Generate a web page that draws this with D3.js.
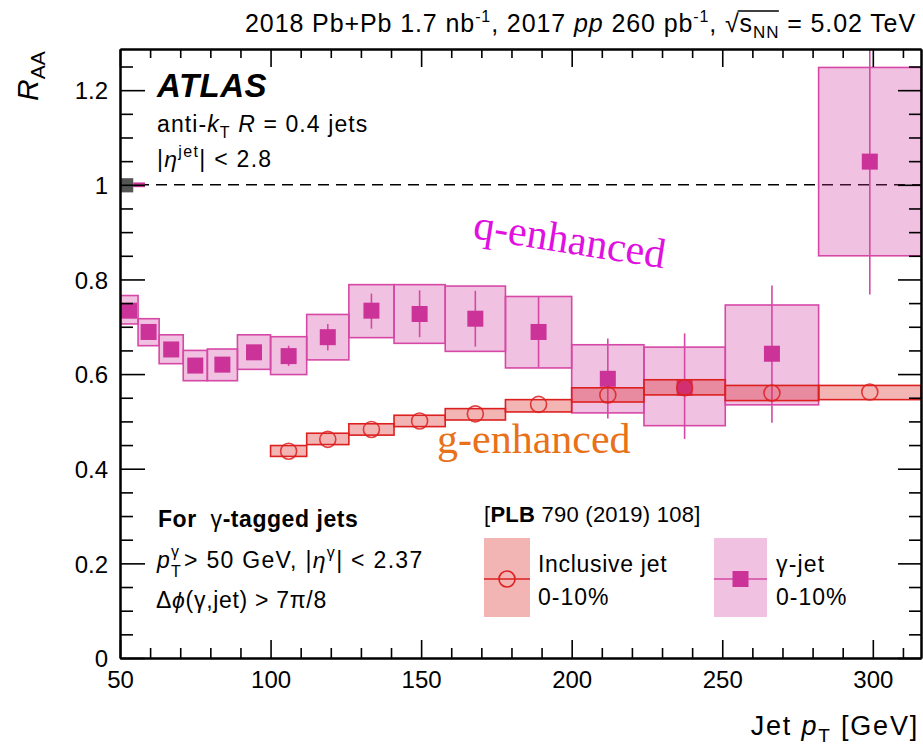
<!DOCTYPE html>
<html>
<head>
<meta charset="utf-8">
<script src="https://cdn.jsdelivr.net/npm/d3@7"></script>
<style>
  body { margin: 0; background: #fff; }
  text { font-family: "Liberation Sans", Arial, Helvetica, sans-serif; fill: #000; }
</style>
</head>
<body>
<svg id="chart" width="923" height="750"></svg>
<script>
// Jet pT bin edges [GeV]
const binEdges = [50, 56, 63, 71, 79, 89, 100, 112, 126, 141, 158, 178, 200, 224, 251, 282, 316];

// gamma-tagged jets, 0-10% (one entry per bin, from 50 GeV)
const gammaJetRaa   = [0.734, 0.689, 0.652, 0.618, 0.620, 0.646, 0.638, 0.678, 0.734, 0.727, 0.717, 0.689, 0.590, 0.571, 0.643, 1.049];
const gammaJetSysLo = [0.706, 0.660, 0.622, 0.586, 0.586, 0.610, 0.599, 0.630, 0.677, 0.665, 0.648, 0.613, 0.518, 0.491, 0.535, 0.850];
const gammaJetSysHi = [0.766, 0.717, 0.683, 0.650, 0.653, 0.683, 0.679, 0.726, 0.789, 0.789, 0.786, 0.764, 0.662, 0.657, 0.746, 1.248];
const gammaJetStatLo = [0.725, 0.680, 0.642, 0.607, 0.608, 0.632, 0.617, 0.650, 0.696, 0.678, 0.658, 0.615, 0.506, 0.463, 0.497, 0.768];
const gammaJetStatHi = [0.743, 0.698, 0.662, 0.629, 0.632, 0.660, 0.660, 0.706, 0.770, 0.777, 0.776, 0.763, 0.675, 0.686, 0.787, 1.330];

// inclusive jets, 0-10% [PLB 790 (2019) 108] (bins from 100 GeV)
const inclusiveFirstBin = 6;
const inclusiveRaa   = [0.437, 0.462, 0.483, 0.501, 0.516, 0.536, 0.556, 0.571, 0.560, 0.562];
const inclusiveSysLo = [0.426, 0.451, 0.471, 0.489, 0.503, 0.520, 0.541, 0.556, 0.544, 0.546];
const inclusiveSysHi = [0.449, 0.475, 0.495, 0.513, 0.527, 0.546, 0.571, 0.588, 0.576, 0.576];

// global normalisation uncertainties drawn at unity
const normTaa   = { x0: 50,   x1: 54.4, lo: 0.984, hi: 1.014 };
const normLumi  = { x0: 54.4, x1: 58.3, lo: 0.995, hi: 1.005 };

// axis ticks
const xMajorTicks = [50, 100, 150, 200, 250, 300];
const xMinorTicks = d3.range(60, 316, 10).filter(v => v % 50 !== 0);
const yMajorTicks = [0, 0.2, 0.4, 0.6, 0.8, 1.0, 1.2];
const yMinorTicks = d3.range(0.05, 1.28, 0.05).filter(v => Math.abs(v * 5 - Math.round(v * 5)) > 1e-6);
const yTickLabels = ["0", "0.2", "0.4", "0.6", "0.8", "1", "1.2"];

const pink = "#cc3399", pinkStroke = "#d648a6", pinkFill = "rgba(204,51,153,0.30)";
const red = "#dc2020", redFill = "rgba(222,40,40,0.35)";

const svg = d3.select("#chart");
const L = 120, R = 921, T = 49, B = 658;
const x = d3.scaleLinear().domain([50, 316]).range([L, R]);
const y = d3.scaleLinear().domain([0, 1.287]).range([B, T]);

const plot = svg.append("g");
svg.append("defs").append("clipPath").attr("id", "clip")
  .append("rect").attr("x", L).attr("y", T).attr("width", R - L).attr("height", B - T);

// reference line at unity
plot.append("line")
  .attr("x1", L).attr("x2", R).attr("y1", y(1)).attr("y2", y(1))
  .attr("stroke", "#000").attr("stroke-width", 1.6).attr("stroke-dasharray", "11,7");

const data = gammaJetRaa.map((v, i) => ({
  x0: binEdges[i], x1: binEdges[i + 1], v,
  sLo: gammaJetSysLo[i], sHi: gammaJetSysHi[i], eLo: gammaJetStatLo[i], eHi: gammaJetStatHi[i]
}));
const inc = inclusiveRaa.map((v, i) => ({
  x0: binEdges[i + inclusiveFirstBin], x1: binEdges[i + inclusiveFirstBin + 1], v,
  sLo: inclusiveSysLo[i], sHi: inclusiveSysHi[i]
}));

const gj = plot.append("g").attr("clip-path", "url(#clip)");
gj.selectAll("rect.sys").data(data).join("rect").attr("class", "sys")
  .attr("x", d => x(d.x0)).attr("width", d => x(d.x1) - x(d.x0))
  .attr("y", d => y(d.sHi)).attr("height", d => y(d.sLo) - y(d.sHi))
  .attr("fill", pinkFill).attr("stroke", pinkStroke).attr("stroke-width", 1.6);
gj.selectAll("line.stat").data(data).join("line").attr("class", "stat")
  .attr("x1", d => x((d.x0 + d.x1) / 2)).attr("x2", d => x((d.x0 + d.x1) / 2))
  .attr("y1", d => y(d.eHi)).attr("y2", d => y(d.eLo))
  .attr("stroke", pinkStroke).attr("stroke-width", 1.6);
gj.selectAll("rect.mk").data(data).join("rect").attr("class", "mk")
  .attr("x", d => x((d.x0 + d.x1) / 2) - 8).attr("y", d => y(d.v) - 8)
  .attr("width", 16).attr("height", 16).attr("fill", pink);

const ij = plot.append("g").attr("clip-path", "url(#clip)");
ij.selectAll("rect.sys").data(inc).join("rect").attr("class", "sys")
  .attr("x", d => x(d.x0)).attr("width", d => x(d.x1) - x(d.x0))
  .attr("y", d => y(d.sHi)).attr("height", d => y(d.sLo) - y(d.sHi))
  .attr("fill", redFill).attr("stroke", red).attr("stroke-width", 1.6);
ij.selectAll("circle").data(inc).join("circle")
  .attr("cx", d => x((d.x0 + d.x1) / 2)).attr("cy", d => y(d.v)).attr("r", 8)
  .attr("fill", "none").attr("stroke", red).attr("stroke-opacity", 0.85).attr("stroke-width", 1.6);

// normalisation boxes
plot.append("rect").attr("x", x(normTaa.x0)).attr("width", x(normTaa.x1) - x(normTaa.x0))
  .attr("y", y(normTaa.hi)).attr("height", y(normTaa.lo) - y(normTaa.hi)).attr("fill", "#555");
plot.append("rect").attr("x", x(normLumi.x0)).attr("width", x(normLumi.x1) - x(normLumi.x0))
  .attr("y", y(normLumi.hi)).attr("height", y(normLumi.lo) - y(normLumi.hi)).attr("fill", pink);

// axes
function styleAxis(g) {
  g.selectAll("path.domain").attr("stroke", "#000").attr("stroke-width", 2);
  g.selectAll(".tick line").attr("stroke", "#000").attr("stroke-width", 1.6);
  g.selectAll("text").style("font-family", '"Liberation Sans", Arial, sans-serif').style("font-size", "24px").attr("fill", "#000");
}
const axes = svg.append("g");
const xb = axes.append("g").attr("transform", `translate(0,${B})`)
  .call(d3.axisBottom(x).tickValues(xMajorTicks).tickSize(-18).tickSizeOuter(0).tickFormat(d3.format("d")));
xb.selectAll("text").attr("y", 30).attr("dy", 0);
styleAxis(xb);
const xbm = axes.append("g").attr("transform", `translate(0,${B})`)
  .call(d3.axisBottom(x).tickValues(xMinorTicks).tickSize(-10).tickSizeOuter(0).tickFormat(""));
styleAxis(xbm);
const xt = axes.append("g").attr("transform", `translate(0,${T})`)
  .call(d3.axisTop(x).tickValues(xMajorTicks).tickSize(-18).tickSizeOuter(0).tickFormat(""));
styleAxis(xt);
const xtm = axes.append("g").attr("transform", `translate(0,${T})`)
  .call(d3.axisTop(x).tickValues(xMinorTicks).tickSize(-9).tickSizeOuter(0).tickFormat(""));
styleAxis(xtm);

const yl = axes.append("g").attr("transform", `translate(${L},0)`)
  .call(d3.axisLeft(y).tickValues(yMajorTicks).tickSize(-25).tickSizeOuter(0)
    .tickFormat((d, i) => yTickLabels[i]));
yl.selectAll("text").attr("x", -12).attr("dy", "0.36em");
styleAxis(yl);
const ylm = axes.append("g").attr("transform", `translate(${L},0)`)
  .call(d3.axisLeft(y).tickValues(yMinorTicks).tickSize(-13).tickSizeOuter(0).tickFormat(""));
styleAxis(ylm);
const yr = axes.append("g").attr("transform", `translate(${R},0)`)
  .call(d3.axisRight(y).tickValues(yMajorTicks).tickSize(-23).tickSizeOuter(0).tickFormat(""));
styleAxis(yr);
const yrm = axes.append("g").attr("transform", `translate(${R},0)`)
  .call(d3.axisRight(y).tickValues(yMinorTicks).tickSize(-12).tickSizeOuter(0).tickFormat(""));
styleAxis(yrm);

// text helpers
function spans(sel, parts) {
  parts.forEach(p => {
    const t = sel.append("tspan").text(p.t);
    if (p.dy != null) t.attr("dy", p.dy);
    if (p.dx != null) t.attr("dx", p.dx);
    if (p.fs) t.style("font-size", p.fs + "px");
    if (p.it) t.style("font-style", "italic");
    if (p.b) t.style("font-weight", "bold");
    if (p.n) t.style("font-weight", "normal");
  });
  return sel;
}
function label(xp, yp, fs, parts, opts = {}) {
  const t = svg.append("text").attr("x", xp).attr("y", yp).style("font-size", fs + "px")
    .style("white-space", "pre");
  if (opts.anchor) t.attr("text-anchor", opts.anchor);
  if (opts.bold) t.style("font-weight", "bold");
  if (opts.italic) t.style("font-style", "italic");
  if (opts.ls != null) t.style("letter-spacing", opts.ls + "px");
  return spans(t, parts);
}

// header
const title = label(916, 32, 25, [
  { t: "2018 Pb+Pb 1.7 nb" }, { t: "-1", fs: 16, dy: -10 }, { t: ", 2017 ", dy: 10 },
  { t: "pp", it: true }, { t: " 260 pb" }, { t: "-1", fs: 16, dy: -10 }, { t: ", ", dy: 10 },
  { t: "\u221A" }, { t: "s" }, { t: "NN", fs: 17, dy: 6 }, { t: " = 5.02 TeV", dy: -6 }
], { anchor: "end", ls: 0.9 });
{
  const s = title.node().textContent;
  const iR = s.indexOf("\u221A");
  const iN = s.indexOf("NN") + 1;
  const eR = title.node().getExtentOfChar(iR);
  const eN = title.node().getExtentOfChar(iN);
  svg.append("line").attr("x1", eR.x + eR.width - 2).attr("x2", eN.x + eN.width - 0.5)
    .attr("y1", eR.y + 2).attr("y2", eR.y + 2).attr("stroke", "#000").attr("stroke-width", 1.3);
}

// axis titles
svg.append("text").attr("transform", "translate(38,101) rotate(-90)").style("font-size", "30px")
  .call(t => spans(t, [{ t: "R", it: true }, { t: "AA", fs: 21, dy: 7 }]));
label(919, 735, 27, [{ t: "Jet " }, { t: "p", it: true }, { t: "T", fs: 19, dy: 7 }, { t: " [GeV]", dy: -7 }],
  { anchor: "end", ls: 1.8 });

// ATLAS block
label(157, 97, 33, [{ t: "ATLAS" }], { bold: true, italic: true, ls: 0.5 });
label(157, 132, 23, [{ t: "anti-" }, { t: "k", it: true }, { t: "T", fs: 16, dy: 6 }, { t: " ", dy: -6 },
  { t: "R", it: true }, { t: " = 0.4 jets" }], { ls: 1.1 });
label(157, 167, 23, [{ t: "|" }, { t: "\u03B7", it: true }, { t: "jet", fs: 16, dy: -10 }, { t: "| < 2.8", dy: 10 }], { ls: 1.3 });

// selection block
label(158, 527, 23, [{ t: "For  " }, { t: "\u03B3", n: true }, { t: "-tagged jets" }], { bold: true, ls: 0.55 });
label(157, 568, 23, [{ t: "p", it: true }]);
label(171, 557, 16, [{ t: "\u03B3" }]);
label(171, 577, 16, [{ t: "T" }]);
label(184, 568, 23, [{ t: "> 50 GeV, |" }, { t: "\u03B7", it: true }, { t: "\u03B3", fs: 16, dy: -10 }, { t: "| < 2.37", dy: 10 }], { ls: 1.3 });
label(156, 608, 23, [{ t: "\u0394" }, { t: "\u03D5", it: true }, { t: "(\u03B3,jet) > 7\u03C0/8" }], { ls: 0.7 });

// legend
label(484, 522, 22, [{ t: "[" }, { t: "PLB", b: true }, { t: " 790 (2019) 108]" }], { ls: 0.25 });
const leg = svg.append("g");
const legY0 = 538, legY1 = 617, legMid = 579;
leg.append("rect").attr("x", 484).attr("y", legY0).attr("width", 46).attr("height", legY1 - legY0).attr("fill", redFill);
leg.append("line").attr("x1", 484).attr("x2", 530).attr("y1", legMid).attr("y2", legMid).attr("stroke", red).attr("stroke-width", 1.6);
leg.append("circle").attr("cx", 507).attr("cy", legMid).attr("r", 8).attr("fill", "none").attr("stroke", red).attr("stroke-width", 1.6);
label(538, 572, 23, [{ t: "Inclusive jet" }], { ls: 0.7 });
label(538, 605, 23, [{ t: "0-10%" }], { ls: 1 });
leg.append("rect").attr("x", 714).attr("y", legY0).attr("width", 53).attr("height", legY1 - legY0).attr("fill", pinkFill);
leg.append("line").attr("x1", 714).attr("x2", 767).attr("y1", legMid).attr("y2", legMid).attr("stroke", pinkStroke).attr("stroke-width", 1.6);
leg.append("rect").attr("x", 740.5 - 8).attr("y", legMid - 8).attr("width", 16).attr("height", 16).attr("fill", pink);
label(776, 572, 23, [{ t: "\u03B3-jet" }], { ls: 1.2 });
label(776, 605, 23, [{ t: "0-10%" }], { ls: 1 });

// annotations
svg.append("text").attr("transform", "translate(472,238) rotate(9)")
  .style("font-family", '"Liberation Serif", "Times New Roman", serif').style("font-size", "42px")
  .style("fill", "#e010e0").text("q-enhanced");
svg.append("text").attr("x", 437).attr("y", 453)
  .style("font-family", '"Liberation Serif", "Times New Roman", serif').style("font-size", "42px")
  .style("fill", "#e8711a").text("g-enhanced");
</script>
</body>
</html>
